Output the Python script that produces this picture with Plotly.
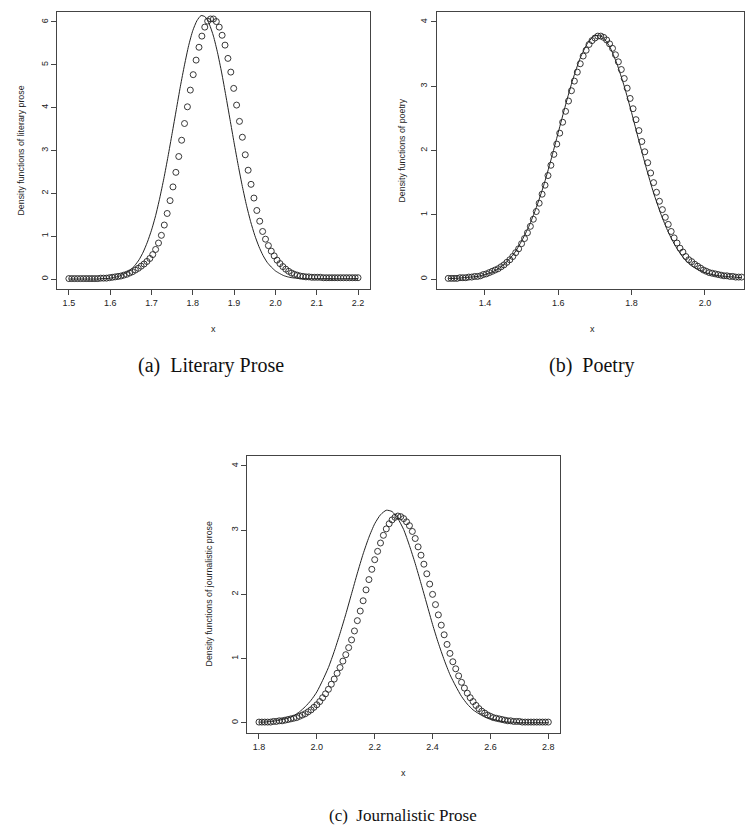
import plotly.graph_objects as go

# ---------------- data ----------------
# (a) Literary prose
lit_pts_x = [1.500, 1.507, 1.514, 1.521, 1.528, 1.535, 1.542, 1.549, 1.556, 1.563,
             1.570, 1.577, 1.584, 1.591, 1.598, 1.605, 1.612, 1.619, 1.626, 1.633,
             1.640, 1.647, 1.654, 1.661, 1.668, 1.675, 1.682, 1.689, 1.696, 1.703,
             1.710, 1.717, 1.724, 1.731, 1.738, 1.745, 1.752, 1.759, 1.766, 1.773,
             1.780, 1.787, 1.794, 1.801, 1.808, 1.815, 1.822, 1.829, 1.836, 1.843,
             1.850, 1.857, 1.864, 1.871, 1.878, 1.885, 1.892, 1.899, 1.906, 1.913,
             1.920, 1.927, 1.934, 1.941, 1.948, 1.955, 1.962, 1.969, 1.976, 1.983,
             1.990, 1.997, 2.004, 2.011, 2.018, 2.025, 2.032, 2.039, 2.046, 2.053,
             2.060, 2.067, 2.074, 2.081, 2.088, 2.095, 2.102, 2.109, 2.116, 2.123,
             2.130, 2.137, 2.144, 2.151, 2.158, 2.165, 2.172, 2.179, 2.186, 2.193,
             2.200]
lit_pts_y = [0.01, 0.01, 0.01, 0.01, 0.01, 0.01, 0.01, 0.01, 0.01, 0.01,
             0.01, 0.02, 0.02, 0.02, 0.03, 0.04, 0.05, 0.06, 0.07, 0.09,
             0.11, 0.14, 0.17, 0.21, 0.25, 0.30, 0.35, 0.41, 0.48, 0.57,
             0.69, 0.84, 1.02, 1.26, 1.53, 1.83, 2.15, 2.49, 2.86, 3.24,
             3.63, 4.02, 4.41, 4.77, 5.11, 5.41, 5.67, 5.88, 6.02, 6.07,
             6.07, 6.01, 5.88, 5.69, 5.46, 5.15, 4.83, 4.45, 4.06, 3.68,
             3.31, 2.90, 2.54, 2.21, 1.89, 1.60, 1.35, 1.11, 0.93, 0.78,
             0.65, 0.54, 0.44, 0.36, 0.29, 0.23, 0.18, 0.14, 0.11, 0.09,
             0.07, 0.06, 0.05, 0.05, 0.04, 0.04, 0.04, 0.04, 0.03, 0.03,
             0.03, 0.03, 0.03, 0.03, 0.03, 0.03, 0.03, 0.03, 0.03, 0.03,
             0.03]
lit_line_x = [1.50, 1.51, 1.52, 1.53, 1.54, 1.55, 1.56, 1.57, 1.58, 1.59,
              1.60, 1.61, 1.62, 1.63, 1.64, 1.65, 1.66, 1.67, 1.68, 1.69,
              1.70, 1.71, 1.72, 1.73, 1.74, 1.75, 1.76, 1.77, 1.78, 1.79,
              1.80, 1.81, 1.82, 1.83, 1.84, 1.85, 1.86, 1.87, 1.88, 1.89,
              1.90, 1.91, 1.92, 1.93, 1.94, 1.95, 1.96, 1.97, 1.98, 1.99,
              2.00, 2.01, 2.02, 2.03, 2.04, 2.05, 2.06, 2.07, 2.08, 2.09,
              2.10, 2.11, 2.12, 2.13, 2.14, 2.15, 2.16, 2.17, 2.18, 2.19,
              2.20]
lit_line_y = [0.00, 0.00, 0.00, 0.00, 0.00, 0.00, 0.00, 0.00, 0.01, 0.01,
              0.02, 0.04, 0.06, 0.10, 0.15, 0.22, 0.32, 0.45, 0.63, 0.86,
              1.14, 1.48, 1.89, 2.35, 2.86, 3.40, 3.95, 4.50, 5.00, 5.45,
              5.80, 6.03, 6.15, 6.12, 5.95, 5.67, 5.28, 4.81, 4.28, 3.73,
              3.18, 2.65, 2.16, 1.72, 1.34, 1.02, 0.76, 0.55, 0.39, 0.28,
              0.19, 0.13, 0.08, 0.05, 0.03, 0.02, 0.01, 0.01, 0.01, 0.01,
              0.01, 0.01, 0.01, 0.01, 0.01, 0.01, 0.01, 0.01, 0.01, 0.01,
              0.01]

# (b) Poetry
poe_pts_x = [1.300, 1.308, 1.316, 1.324, 1.332, 1.340, 1.348, 1.356, 1.364, 1.372,
             1.380, 1.388, 1.396, 1.404, 1.412, 1.420, 1.428, 1.436, 1.444, 1.452,
             1.460, 1.468, 1.476, 1.484, 1.492, 1.500, 1.508, 1.516, 1.524, 1.532,
             1.540, 1.548, 1.556, 1.564, 1.572, 1.580, 1.588, 1.596, 1.604, 1.612,
             1.620, 1.628, 1.636, 1.644, 1.652, 1.660, 1.668, 1.676, 1.684, 1.692,
             1.700, 1.708, 1.716, 1.724, 1.732, 1.740, 1.748, 1.756, 1.764, 1.772,
             1.780, 1.788, 1.796, 1.804, 1.812, 1.820, 1.828, 1.836, 1.844, 1.852,
             1.860, 1.868, 1.876, 1.884, 1.892, 1.900, 1.908, 1.916, 1.924, 1.932,
             1.940, 1.948, 1.956, 1.964, 1.972, 1.980, 1.988, 1.996, 2.004, 2.012,
             2.020, 2.028, 2.036, 2.044, 2.052, 2.060, 2.068, 2.076, 2.084, 2.092,
             2.100]
poe_pts_y = [0.01, 0.01, 0.01, 0.01, 0.02, 0.02, 0.02, 0.03, 0.03, 0.04,
             0.04, 0.05, 0.07, 0.08, 0.10, 0.12, 0.14, 0.16, 0.19, 0.22,
             0.26, 0.30, 0.35, 0.41, 0.47, 0.55, 0.63, 0.72, 0.82, 0.93,
             1.05, 1.18, 1.32, 1.46, 1.61, 1.77, 1.94, 2.10, 2.27, 2.44,
             2.61, 2.77, 2.93, 3.08, 3.22, 3.35, 3.47, 3.56, 3.65, 3.71,
             3.75, 3.78, 3.78, 3.76, 3.72, 3.66, 3.59, 3.49, 3.38, 3.26,
             3.12, 2.97, 2.81, 2.65, 2.48, 2.31, 2.14, 1.98, 1.81, 1.65,
             1.50, 1.35, 1.21, 1.08, 0.96, 0.85, 0.74, 0.64, 0.56, 0.48,
             0.42, 0.35, 0.30, 0.27, 0.23, 0.20, 0.17, 0.14, 0.12, 0.10,
             0.09, 0.08, 0.07, 0.06, 0.05, 0.05, 0.04, 0.04, 0.03, 0.03,
             0.03]
poe_line_x = [1.30, 1.32, 1.34, 1.36, 1.38, 1.40, 1.42, 1.44, 1.46, 1.48,
              1.50, 1.52, 1.54, 1.56, 1.58, 1.60, 1.62, 1.64, 1.66, 1.68,
              1.70, 1.72, 1.74, 1.76, 1.78, 1.80, 1.82, 1.84, 1.86, 1.88,
              1.90, 1.92, 1.94, 1.96, 1.98, 2.00, 2.02, 2.04, 2.06, 2.08,
              2.10]
poe_line_y = [0.01, 0.01, 0.02, 0.03, 0.04, 0.07, 0.11, 0.17, 0.27, 0.40,
              0.59, 0.82, 1.11, 1.45, 1.85, 2.28, 2.71, 3.11, 3.44, 3.67,
              3.79, 3.77, 3.62, 3.35, 3.00, 2.59, 2.15, 1.73, 1.34, 1.01,
              0.73, 0.51, 0.34, 0.22, 0.15, 0.10, 0.07, 0.05, 0.04, 0.03,
              0.02]

# (c) Journalistic prose
jou_pts_x = [1.80, 1.81, 1.82, 1.83, 1.84, 1.85, 1.86, 1.87, 1.88, 1.89,
             1.90, 1.91, 1.92, 1.93, 1.94, 1.95, 1.96, 1.97, 1.98, 1.99,
             2.00, 2.01, 2.02, 2.03, 2.04, 2.05, 2.06, 2.07, 2.08, 2.09,
             2.10, 2.11, 2.12, 2.13, 2.14, 2.15, 2.16, 2.17, 2.18, 2.19,
             2.20, 2.21, 2.22, 2.23, 2.24, 2.25, 2.26, 2.27, 2.28, 2.29,
             2.30, 2.31, 2.32, 2.33, 2.34, 2.35, 2.36, 2.37, 2.38, 2.39,
             2.40, 2.41, 2.42, 2.43, 2.44, 2.45, 2.46, 2.47, 2.48, 2.49,
             2.50, 2.51, 2.52, 2.53, 2.54, 2.55, 2.56, 2.57, 2.58, 2.59,
             2.60, 2.61, 2.62, 2.63, 2.64, 2.65, 2.66, 2.67, 2.68, 2.69,
             2.70, 2.71, 2.72, 2.73, 2.74, 2.75, 2.76, 2.77, 2.78, 2.79,
             2.80]
jou_pts_y = [0.01, 0.01, 0.01, 0.01, 0.01, 0.02, 0.02, 0.03, 0.03, 0.04,
             0.05, 0.06, 0.07, 0.08, 0.10, 0.12, 0.14, 0.17, 0.20, 0.24,
             0.28, 0.33, 0.39, 0.45, 0.52, 0.60, 0.68, 0.77, 0.86, 0.96,
             1.06, 1.17, 1.29, 1.43, 1.59, 1.74, 1.90, 2.07, 2.23, 2.39,
             2.54, 2.67, 2.80, 2.92, 3.02, 3.10, 3.16, 3.20, 3.22, 3.21,
             3.18, 3.13, 3.07, 2.98, 2.87, 2.74, 2.61, 2.47, 2.32, 2.16,
             2.00, 1.84, 1.68, 1.52, 1.37, 1.22, 1.08, 0.95, 0.84, 0.73,
             0.63, 0.54, 0.46, 0.39, 0.33, 0.27, 0.22, 0.18, 0.15, 0.12,
             0.10, 0.08, 0.07, 0.06, 0.05, 0.04, 0.03, 0.03, 0.02, 0.02,
             0.02, 0.01, 0.01, 0.01, 0.01, 0.01, 0.01, 0.01, 0.01, 0.01,
             0.01]
jou_line_x = [1.80, 1.82, 1.84, 1.86, 1.88, 1.90, 1.92, 1.94, 1.96, 1.98,
              2.00, 2.02, 2.04, 2.06, 2.08, 2.10, 2.12, 2.14, 2.16, 2.18,
              2.20, 2.22, 2.24, 2.26, 2.28, 2.30, 2.32, 2.34, 2.36, 2.38,
              2.40, 2.42, 2.44, 2.46, 2.48, 2.50, 2.52, 2.54, 2.56, 2.58,
              2.60, 2.62, 2.64, 2.66, 2.68, 2.70, 2.72, 2.74, 2.76, 2.78,
              2.80]
jou_line_y = [0.01, 0.01, 0.02, 0.03, 0.05, 0.07, 0.11, 0.17, 0.25, 0.35,
              0.48, 0.66, 0.86, 1.11, 1.39, 1.69, 2.01, 2.33, 2.63, 2.89,
              3.10, 3.24, 3.31, 3.29, 3.18, 3.01, 2.76, 2.48, 2.17, 1.85,
              1.53, 1.24, 0.98, 0.75, 0.57, 0.41, 0.29, 0.20, 0.14, 0.09,
              0.06, 0.04, 0.02, 0.01, 0.01, 0.00, 0.00, 0.00, 0.00, 0.00,
              0.00]

# tick values / labels
lit_xticks = [1.5, 1.6, 1.7, 1.8, 1.9, 2.0, 2.1, 2.2]
lit_xlabels = ["1.5", "1.6", "1.7", "1.8", "1.9", "2.0", "2.1", "2.2"]
lit_yticks = [0, 1, 2, 3, 4, 5, 6]
poe_xticks = [1.4, 1.6, 1.8, 2.0]
poe_xlabels = ["1.4", "1.6", "1.8", "2.0"]
poe_yticks = [0, 1, 2, 3, 4]
jou_xticks = [1.8, 2.0, 2.2, 2.4, 2.6, 2.8]
jou_xlabels = ["1.8", "2.0", "2.2", "2.4", "2.6", "2.8"]
jou_yticks = [0, 1, 2, 3, 4]

y_titles = ["Density functions of literary prose",
            "Density functions of poetry",
            "Density functions of journalistic prose"]
captions = ["(a)\u00a0\u00a0Literary Prose", "(b)\u00a0\u00a0Poetry",
            "(c)\u00a0\u00a0Journalistic Prose"]

# ---------------- figure ----------------
W, H = 745, 828
INK = "#222222"
FRAME = "#444444"
SANS = "Liberation Sans, Arial, Helvetica, sans-serif"
SERIF = "Liberation Serif, Times New Roman, serif"


def px_x(p):
    return p / W


def px_y(p):
    return 1 - p / H


fig = go.Figure()

panels = [
    (lit_pts_x, lit_pts_y, lit_line_x, lit_line_y, ""),
    (poe_pts_x, poe_pts_y, poe_line_x, poe_line_y, "2"),
    (jou_pts_x, jou_pts_y, jou_line_x, jou_line_y, "3"),
]
for px_, py_, lx, ly, s in panels:
    fig.add_trace(go.Scatter(x=lx, y=ly, mode="lines",
                             line=dict(color=INK, width=1, shape="spline", smoothing=0.6),
                             xaxis="x" + s, yaxis="y" + s, hoverinfo="skip", showlegend=False))
    fig.add_trace(go.Scatter(x=px_, y=py_, mode="markers",
                             marker=dict(symbol="circle-open", size=6, color=INK,
                                         line=dict(width=0.9, color=INK)),
                             xaxis="x" + s, yaxis="y" + s, hoverinfo="skip", showlegend=False))


def xax(dom, rng, tv, tt, anchor):
    return dict(domain=dom, range=rng, tickvals=tv, ticktext=tt, anchor=anchor,
                showline=True, mirror=True, linecolor=FRAME, linewidth=1,
                ticks="outside", ticklen=5, tickwidth=1, tickcolor=FRAME,
                showgrid=False, zeroline=False, fixedrange=True,
                tickfont=dict(family=SANS, size=9, color=INK))


def yax(dom, rng, tv, anchor):
    return dict(domain=dom, range=rng, tickvals=tv, ticktext=[str(v) for v in tv], anchor=anchor,
                showline=True, mirror=True, linecolor=FRAME, linewidth=1,
                ticks="outside", ticklen=5, tickwidth=1, tickcolor=FRAME, tickangle=-90,
                showgrid=False, zeroline=False, fixedrange=True,
                tickfont=dict(family=SANS, size=9, color=INK))


top_ab, bot_ab = 11.7, 289.3
top_c, bot_c = 455.7, 733.0

fig.update_layout(
    width=W, height=H, autosize=False,
    margin=dict(l=0, r=0, t=0, b=0, pad=0),
    paper_bgcolor="white", plot_bgcolor="white",
    xaxis=xax([px_x(57.3), px_x(369.6)], [1.472, 2.228], lit_xticks, lit_xlabels, "y"),
    yaxis=yax([px_y(bot_ab), px_y(top_ab)], [-0.24, 6.24], lit_yticks, "x"),
    xaxis2=xax([px_x(436.5), px_x(744.0)], [1.268, 2.1066], poe_xticks, poe_xlabels, "y2"),
    yaxis2=yax([px_y(bot_ab), px_y(top_ab)], [-0.16, 4.16], poe_yticks, "x2"),
    xaxis3=xax([px_x(247.4), px_x(559.9)], [1.76, 2.84], jou_xticks, jou_xlabels, "y3"),
    yaxis3=yax([px_y(bot_c), px_y(top_c)], [-0.16, 4.16], jou_yticks, "x3"),
)

ann = []
for xp, yp, t in [(20, 150.5, y_titles[0]), (401, 150.5, y_titles[1]), (209, 594.4, y_titles[2])]:
    ann.append(dict(x=px_x(xp), y=px_y(yp), xref="paper", yref="paper", text=t, textangle=-90,
                    showarrow=False, xanchor="center", yanchor="middle",
                    font=dict(family=SANS, size=8.8, color=INK)))
for xp, yp in [(213.5, 329), (592, 329), (403.6, 773)]:
    ann.append(dict(x=px_x(xp), y=px_y(yp), xref="paper", yref="paper", text="x",
                    showarrow=False, xanchor="center", yanchor="middle",
                    font=dict(family=SANS, size=9, color=INK)))
for xp, yp, t, fs in [(211, 366, captions[0], 20), (592, 366, captions[1], 20),
                      (403, 815, captions[2], 17)]:
    ann.append(dict(x=px_x(xp), y=px_y(yp), xref="paper", yref="paper", text=t,
                    showarrow=False, xanchor="center", yanchor="middle",
                    font=dict(family=SERIF, size=fs, color="#111111")))
fig.update_layout(annotations=ann)

fig.write_html("out.html", config={"displayModeBar": False},
               post_script="document.body.style.margin='0';")
